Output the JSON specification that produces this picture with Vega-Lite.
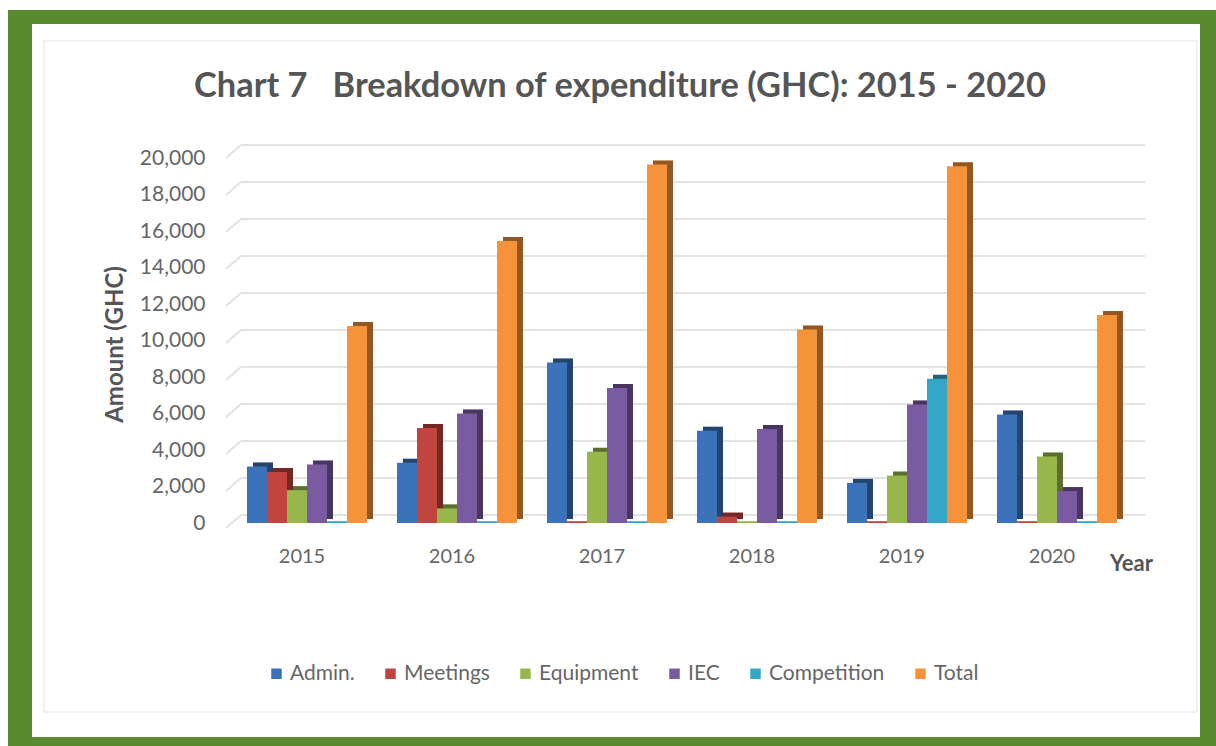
{
"$schema":"https://vega.github.io/schema/vega-lite/v6.json",
"autosize":{"type":"none"},
"width":1208,"height":736,
"padding":{"left":8,"top":10,"right":0,"bottom":0},
"background":"white",
"config":{"view":{"fill":"#5a8a2f","stroke":null},"font":"Lato"},
"title":{"text":"Chart 7\u00a0\u00a0\u00a0Breakdown of expenditure (GHC): 2015 - 2020","anchor":"middle","dx":8,"offset":-94,"fontSize":34.4,"fontWeight":"bold","color":"#555555","font":"Lato"},
"datasets":{"spend":[
{"year":"2015","item":"Admin.","amount":3100},{"year":"2015","item":"Meetings","amount":2800},{"year":"2015","item":"Equipment","amount":1800},{"year":"2015","item":"IEC","amount":3200},{"year":"2015","item":"Competition","amount":100},{"year":"2015","item":"Total","amount":10800},
{"year":"2016","item":"Admin.","amount":3300},{"year":"2016","item":"Meetings","amount":5200},{"year":"2016","item":"Equipment","amount":800},{"year":"2016","item":"IEC","amount":6000},{"year":"2016","item":"Competition","amount":100},{"year":"2016","item":"Total","amount":15450},
{"year":"2017","item":"Admin.","amount":8800},{"year":"2017","item":"Meetings","amount":100},{"year":"2017","item":"Equipment","amount":3900},{"year":"2017","item":"IEC","amount":7400},{"year":"2017","item":"Competition","amount":100},{"year":"2017","item":"Total","amount":19650},
{"year":"2018","item":"Admin.","amount":5050},{"year":"2018","item":"Meetings","amount":350},{"year":"2018","item":"Equipment","amount":100},{"year":"2018","item":"IEC","amount":5150},{"year":"2018","item":"Competition","amount":100},{"year":"2018","item":"Total","amount":10600},
{"year":"2019","item":"Admin.","amount":2200},{"year":"2019","item":"Meetings","amount":100},{"year":"2019","item":"Equipment","amount":2600},{"year":"2019","item":"IEC","amount":6500},{"year":"2019","item":"Competition","amount":7900},{"year":"2019","item":"Total","amount":19550},
{"year":"2020","item":"Admin.","amount":5950},{"year":"2020","item":"Meetings","amount":100},{"year":"2020","item":"Equipment","amount":3650},{"year":"2020","item":"IEC","amount":1750},{"year":"2020","item":"Competition","amount":100},{"year":"2020","item":"Total","amount":11400}
],
"grid":[{"value":0,"front":-700},{"value":2000,"front":1300},{"value":4000,"front":3300},{"value":6000,"front":5300},{"value":8000,"front":7300},{"value":10000,"front":9300},{"value":12000,"front":11300},{"value":14000,"front":13300},{"value":16000,"front":15300},{"value":18000,"front":17300},{"value":20000,"front":19300}]},
"resolve":{"scale":{"x":"independent","y":"independent"}},
"layer":[
{"data":{"values":[{"panel":"chart"}]},
 "mark":{"type":"rect","fill":"white"},
 "encoding":{
  "x":{"field":"panel","type":"nominal","axis":null,"scale":{"range":[24,1192],"paddingInner":0,"paddingOuter":0}},
  "y":{"field":"panel","type":"nominal","axis":null,"scale":{"range":[14,727],"paddingInner":0,"paddingOuter":0}}}},
{"data":{"values":[{"panel":"chart"}]},
 "mark":{"type":"rect","fill":"white","stroke":"#eeeeee","strokeWidth":1.5},
 "encoding":{
  "x":{"field":"panel","type":"nominal","axis":null,"scale":{"range":[36,1189],"paddingInner":0,"paddingOuter":0}},
  "y":{"field":"panel","type":"nominal","axis":null,"scale":{"range":[31,702],"paddingInner":0,"paddingOuter":0}}}},
{"data":{"name":"grid"},
 "mark":{"type":"rule","color":"#e2e2e2","strokeWidth":2},
 "encoding":{
  "x":{"datum":0,"type":"quantitative","axis":null,"scale":{"domain":[0,1],"range":[233,1137]}},
  "x2":{"datum":1},
  "y":{"field":"value","type":"quantitative","axis":null,"scale":{"domain":[0,20000],"range":[505,135]}}}},
{"data":{"name":"grid"},
 "mark":{"type":"rule","color":"#e2e2e2","strokeWidth":2},
 "encoding":{
  "x":{"datum":0,"type":"quantitative","axis":null,"scale":{"domain":[0,1],"range":[233,218]}},
  "x2":{"datum":1},
  "y":{"field":"value","type":"quantitative","axis":null,"scale":{"domain":[0,20000],"range":[505,135]}},
  "y2":{"field":"front"}}},
{"data":{"name":"spend"},
 "transform":[{"filter":"datum.amount > 200"}],
 "encoding":{
  "x":{"field":"year","type":"nominal","axis":null,"scale":{"range":[230,1130],"paddingInner":0.2,"paddingOuter":0.1}},
  "xOffset":{"field":"item","type":"nominal","sort":["Admin.","Meetings","Equipment","IEC","Competition","Total"],"scale":{"domain":["Admin.","Meetings","Equipment","IEC","Competition","Total"]}},
  "y":{"field":"amount","type":"quantitative","axis":null,"scale":{"domain":[0,20000],"range":[509,144],"nice":false}}
 },
 "layer":[
  {"mark":{"type":"bar"},
   "encoding":{"color":{"field":"item","type":"nominal","sort":["Admin.","Meetings","Equipment","IEC","Competition","Total"],
    "scale":{"domain":["Admin.","Meetings","Equipment","IEC","Competition","Total"],"range":["#3b72b9","#c2443f","#97b74c","#7a5aa0","#35a7c6","#f6923a"]},
    "legend":{"title":null,"orient":"none","legendX":258,"legendY":653,"direction":"horizontal","symbolType":"square","symbolSize":110,"labelFontSize":21,"labelColor":"#666666","columnPadding":25,"symbolStrokeWidth":0,"labelOffset":3}}}},
  {"mark":{"type":"bar","fill":"#000000","fillOpacity":0.4}}
 ]},
{"data":{"name":"spend"},
 "mark":{"type":"bar"},
 "encoding":{
  "x":{"field":"year","type":"nominal","scale":{"range":[224,1124],"paddingInner":0.2,"paddingOuter":0.1},
   "axis":{"zindex":1,"title":"Year","titleX":1123,"titleY":7,"titleAlign":"center","titleFontSize":22,"titleFontWeight":"bold","titleColor":"#555555","labelAngle":0,"offset":-200,"domain":false,"ticks":false,"labelPadding":0,"labelOffset":-5,"labelFontSize":20,"labelColor":"#666666"}},
  "xOffset":{"field":"item","type":"nominal","sort":["Admin.","Meetings","Equipment","IEC","Competition","Total"],"scale":{"domain":["Admin.","Meetings","Equipment","IEC","Competition","Total"]}},
  "y":{"field":"amount","type":"quantitative","scale":{"domain":[0,20000],"range":[513,148],"nice":false},
   "axis":{"zindex":1,"title":"Amount (GHC)","titleX":-78,"titleY":334,"titleFontSize":24,"titleFontWeight":"bold","titleColor":"#555555","values":[0,2000,4000,6000,8000,10000,12000,14000,16000,18000,20000],"format":",d","offset":-197,"domain":false,"ticks":false,"grid":false,"labelPadding":0,"labelFontSize":21,"labelColor":"#666666"}},
  "color":{"field":"item","type":"nominal","sort":["Admin.","Meetings","Equipment","IEC","Competition","Total"]}}}
]}
